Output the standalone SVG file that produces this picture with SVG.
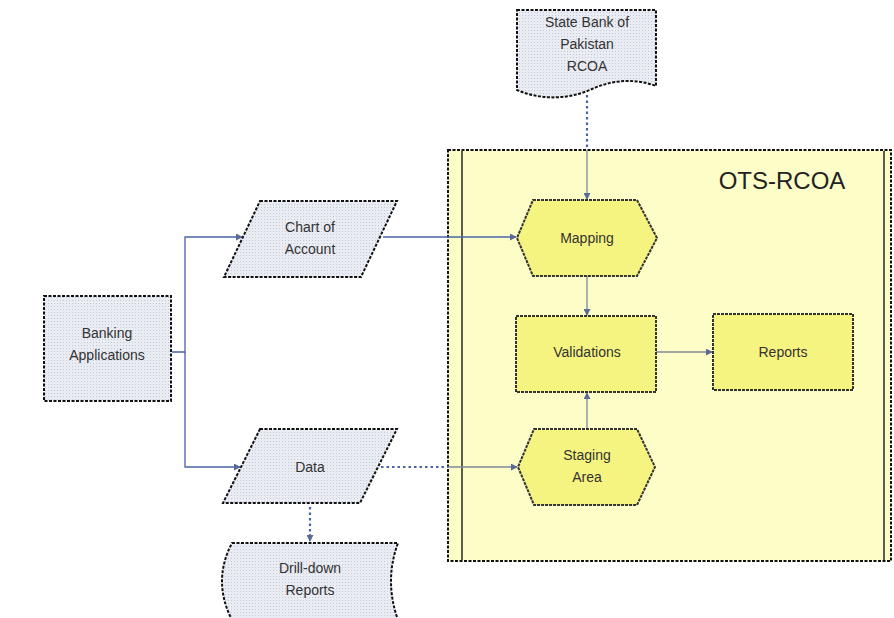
<svg xmlns="http://www.w3.org/2000/svg" width="894" height="618" viewBox="0 0 894 618">
<defs>
<pattern id="dots" width="3" height="3" patternUnits="userSpaceOnUse">
<rect width="3" height="3" fill="#e9ecf2"/>
<rect width="1" height="1" fill="#c4c9d4"/>
</pattern>
<marker id="arr" viewBox="0 0 8 8" refX="7" refY="4" markerWidth="7" markerHeight="7" orient="auto" markerUnits="userSpaceOnUse">
<path d="M0,0 L8,4 L0,8 Z" fill="#5a6a96"/>
</marker>
</defs>
<style>
text{font-family:"Liberation Sans",Arial,sans-serif;font-size:14px;fill:#333;text-anchor:middle}
.ext{fill:url(#dots);stroke:#111;stroke-width:2;stroke-dasharray:3 1.5}
.yel{fill:#f6f480;stroke:#333;stroke-width:2;stroke-dasharray:3 1}
.con{fill:none;stroke:#4a63a8;stroke-width:1.3}
.dot{fill:none;stroke:#4a63a8;stroke-width:2.2;stroke-dasharray:2.5 3}
.gray{fill:none;stroke:#7f8899;stroke-width:1.3}
</style>
<rect width="894" height="618" fill="#ffffff"/>
<g id="ots-rcoa">
<rect x="448" y="150" width="443" height="411" fill="#fdfdc8" stroke="#111" stroke-width="2" stroke-dasharray="3 1.5"/>
<line x1="462" y1="151" x2="462" y2="560" stroke="#333" stroke-width="1.6"/>
<line x1="884" y1="151" x2="884" y2="560" stroke="#333" stroke-width="1.6"/>
<text x="782" y="189" style="font-size:24px;fill:#222">OTS-RCOA</text>
</g>
<g id="connectors">
<path class="dot" d="M587,95 V150"/>
<path class="gray" d="M587,150 V199" marker-end="url(#arr)"/>
<path class="con" d="M172,352 H185 V237 H242" marker-end="url(#arr)"/>
<path class="con" d="M185,352 V467 H240" marker-end="url(#arr)"/>
<path class="con" d="M383,237 H516" marker-end="url(#arr)"/>
<path class="gray" d="M587,276 V315" marker-end="url(#arr)"/>
<path class="gray" d="M587,429 V393" marker-end="url(#arr)"/>
<path class="gray" d="M656,352 H712" marker-end="url(#arr)"/>
<path class="dot" d="M381,467 H448"/>
<path class="gray" d="M448,467 H517" marker-end="url(#arr)"/>
<path class="dot" d="M310,507 V538"/>
<path class="con" d="M310,534 V541" marker-end="url(#arr)"/>
</g>
<g id="state-bank">
<path class="ext" d="M517,10 H656 V86 C635,78 612,80 592,89 C568,100 540,100 517,90 Z"/>
<text x="587" y="27">State Bank of</text>
<text x="587" y="49">Pakistan</text>
<text x="587" y="71">RCOA</text>
</g>
<g id="banking-applications">
<rect class="ext" x="44" y="296" width="127" height="105"/>
<text x="107" y="338">Banking</text>
<text x="107" y="360">Applications</text>
</g>
<g id="chart-of-account">
<path class="ext" d="M260,201 H397 L361,277 H224 Z"/>
<text x="310" y="232">Chart of</text>
<text x="310" y="254">Account</text>
</g>
<g id="data">
<path class="ext" d="M260,429 H397 L360,503 H223 Z"/>
<text x="310" y="472">Data</text>
</g>
<g id="drill-down-reports">
<path class="ext" d="M232,543 H398 Q384,581 398,620 H232 Q212,581 232,543 Z"/>
<text x="310" y="573">Drill-down</text>
<text x="310" y="595">Reports</text>
</g>
<g id="mapping">
<path class="yel" d="M533,200 H637 L657,238 L637,276 H533 L517,238 Z"/>
<text x="587" y="243">Mapping</text>
</g>
<g id="validations">
<rect class="yel" x="516" y="316" width="140" height="76"/>
<text x="587" y="357">Validations</text>
</g>
<g id="reports">
<rect class="yel" x="713" y="314" width="140" height="76"/>
<text x="783" y="357">Reports</text>
</g>
<g id="staging-area">
<path class="yel" d="M534,429 H637 L655,467 L637,505 H534 L518,467 Z"/>
<text x="587" y="460">Staging</text>
<text x="587" y="482">Area</text>
</g>
</svg>
